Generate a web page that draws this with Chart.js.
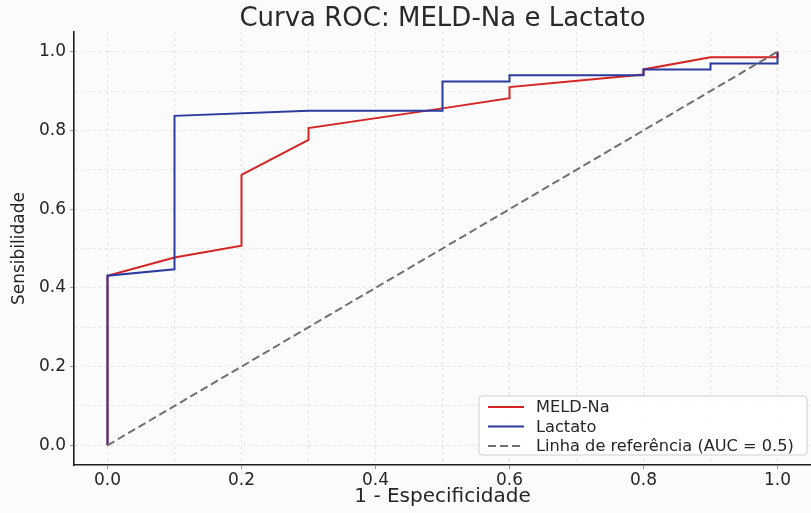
<!DOCTYPE html>
<html>
<head>
<meta charset="utf-8">
<script src="https://cdn.jsdelivr.net/npm/chart.js@4.4.1/dist/chart.umd.min.js"></script>
<style>
  html, body { margin: 0; padding: 0; background: #fbfbfb; }
  #wrap { width: 811px; height: 513px; }
</style>
</head>
<body>
<div id="wrap"><canvas id="c" width="811" height="513"></canvas></div>
<script>
// ---- data ----
const titleText = 'Curva ROC: MELD-Na e Lactato';
const xTitle = '1 - Especificidade';
const yTitle = 'Sensibilidade';

const seriesNames = ['MELD-Na', 'Lactato', 'Linha de referência (AUC = 0.5)'];

const meldFpr = [0, 0, 0.1, 0.2, 0.2, 0.3, 0.3, 0.5, 0.6, 0.6, 0.8, 0.8, 0.9, 1.0, 1.0];
const meldTpr = [0, 0.431, 0.477, 0.507, 0.687, 0.776, 0.806, 0.856, 0.882, 0.910, 0.942, 0.955, 0.986, 0.986, 1.0];

const lacFpr = [0, 0, 0.1, 0.1, 0.3, 0.5, 0.5, 0.6, 0.6, 0.8, 0.8, 0.9, 0.9, 1.0, 1.0];
const lacTpr = [0, 0.431, 0.447, 0.837, 0.850, 0.850, 0.924, 0.924, 0.940, 0.940, 0.955, 0.955, 0.970, 0.970, 1.0];

const refFpr = [0, 1];
const refTpr = [0, 1];

const gridValues = [0.0, 0.1, 0.2, 0.3, 0.4, 0.5, 0.6, 0.7, 0.8, 0.9, 1.0];
const tickLabels = ['0.0', '', '0.2', '', '0.4', '', '0.6', '', '0.8', '', '1.0'];

// ---- helpers ----
const toPts = (xs, ys) => xs.map((x, i) => ({ x: x, y: ys[i] }));
const FONT = "'DejaVu Sans', sans-serif";

const bgPlugin = {
  id: 'bg',
  beforeDraw(chart) {
    const ctx = chart.ctx;
    ctx.save();
    ctx.fillStyle = '#fbfbfb';
    ctx.fillRect(0, 0, chart.width, chart.height);
    ctx.restore();
  }
};

const legendPlugin = {
  id: 'innerLegend',
  afterDraw(chart) {
    const ctx = chart.ctx;
    const a = chart.chartArea;
    const ds = chart.data.datasets;
    const w = 328, h = 59;
    const x0 = a.right - 4 - w;
    const y0 = a.bottom - 10 - h;
    ctx.save();
    ctx.beginPath();
    if (ctx.roundRect) ctx.roundRect(x0, y0, w, h, 3); else ctx.rect(x0, y0, w, h);
    ctx.fillStyle = 'rgba(255,255,255,0.85)';
    ctx.fill();
    ctx.strokeStyle = '#cfcfcf';
    ctx.lineWidth = 1;
    ctx.stroke();
    ctx.font = '16.2px ' + FONT;
    ctx.textBaseline = 'middle';
    ctx.fillStyle = '#262626';
    ds.forEach((d, i) => {
      const cy = y0 + 11 + i * 19.5;
      ctx.beginPath();
      ctx.setLineDash(d.borderDash || []);
      ctx.strokeStyle = d.borderColor;
      ctx.lineWidth = d.borderWidth;
      ctx.moveTo(x0 + 9, cy);
      ctx.lineTo(x0 + 45, cy);
      ctx.stroke();
      ctx.setLineDash([]);
      ctx.fillText(d.label, x0 + 57, cy + 1);
    });
    ctx.restore();
  }
};

const commonScale = (titleStr, isX) => ({
  type: 'linear',
  min: -0.05,
  max: 1.05,
  afterBuildTicks(scale) {
    scale.ticks = gridValues.map(v => ({ value: v }));
  },
  afterFit(scale) {
    if (isX) scale.height = 48; else scale.width = 74;
  },
  grid: {
    color: '#e0e0e0',
    lineWidth: 0.8,
    drawTicks: true,
    tickLength: 4,
    tickWidth: 1,
    tickColor: ctx => (ctx.index % 2 === 0 ? '#9a9a9a' : 'rgba(0,0,0,0)')
  },
  border: {
    display: true,
    color: '#1e1e1e',
    width: 1.6,
    dash: [3, 3]
  },
  ticks: {
    autoSkip: false,
    maxRotation: 0,
    padding: isX ? 1 : 4,
    color: '#262626',
    font: { family: FONT, size: 17 },
    callback: (value, index) => tickLabels[index]
  },
  title: {
    display: true,
    text: titleStr,
    color: '#262626',
    font: { family: FONT, size: isX ? 20 : 17, lineHeight: 1.2 },
    padding: isX ? { top: 0, bottom: 4 } : { top: 9, bottom: 0 }
  }
});

new Chart(document.getElementById('c'), {
  type: 'line',
  data: {
    datasets: [
      {
        label: seriesNames[0],
        data: toPts(meldFpr, meldTpr),
        borderColor: '#d42424',
        borderWidth: 2,
        pointRadius: 0,
        tension: 0,
        fill: false,
        order: 2
      },
      {
        label: seriesNames[1],
        data: toPts(lacFpr, lacTpr),
        borderColor: '#2b3b9e',
        borderWidth: 2,
        pointRadius: 0,
        tension: 0,
        fill: false,
        order: 1
      },
      {
        label: seriesNames[2],
        data: toPts(refFpr, refTpr),
        borderColor: '#707070',
        borderWidth: 2,
        borderDash: [8, 4],
        pointRadius: 0,
        tension: 0,
        fill: false,
        order: 0
      }
    ]
  },
  options: {
    responsive: false,
    animation: false,
    devicePixelRatio: 1,
    layout: { padding: { left: 0, right: 0, top: 0, bottom: 0 } },
    scales: {
      x: commonScale(xTitle, true),
      y: commonScale(yTitle, false)
    },
    plugins: {
      legend: { display: false },
      tooltip: { enabled: false },
      title: {
        display: true,
        text: titleText,
        fullSize: false,
        color: '#2a2a2a',
        font: { family: FONT, size: 26, weight: 'normal', lineHeight: 1.0 },
        padding: { top: 6, bottom: 0 }
      }
    }
  },
  plugins: [bgPlugin, legendPlugin]
});
</script>
</body>
</html>
